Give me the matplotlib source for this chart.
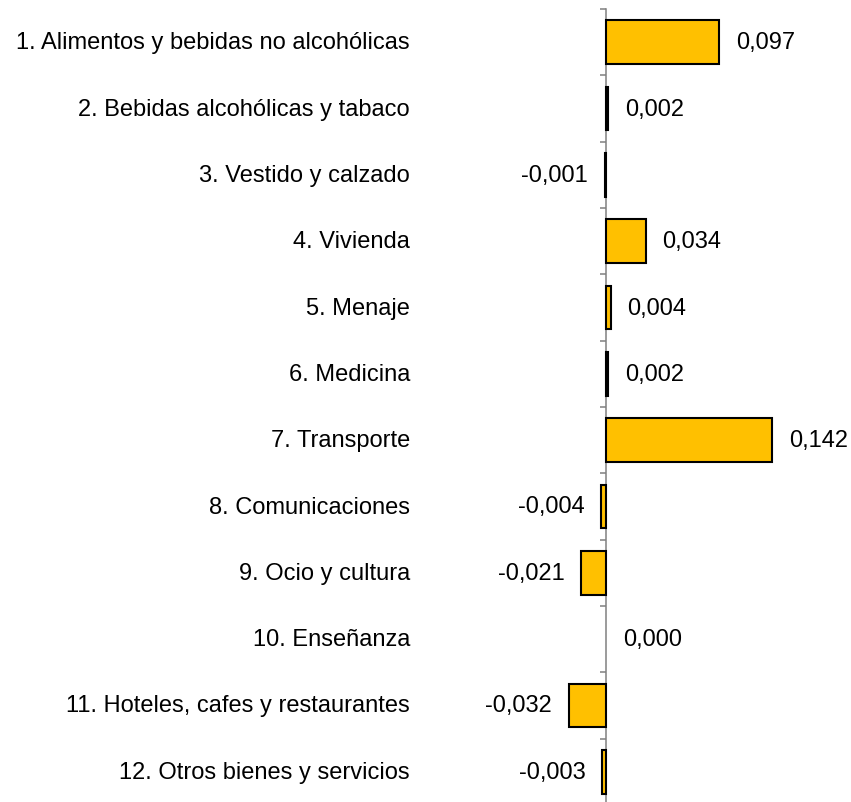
import matplotlib

matplotlib.use("Agg")
import matplotlib.pyplot as plt  # noqa: E402
from matplotlib.transforms import blended_transform_factory  # noqa: E402

plt.rcParams["font.family"] = ["Liberation Sans", "DejaVu Sans"]

categories = [
    "1. Alimentos y bebidas no alcohólicas",
    "2. Bebidas alcohólicas y tabaco",
    "3. Vestido y calzado",
    "4. Vivienda",
    "5. Menaje",
    "6. Medicina",
    "7. Transporte",
    "8. Comunicaciones",
    "9. Ocio y cultura",
    "10. Enseñanza",
    "11. Hoteles, cafes y restaurantes",
    "12. Otros bienes y servicios",
]
values = [0.097, 0.002, -0.001, 0.034, 0.004, 0.002, 0.142,
          -0.004, -0.021, 0.000, -0.032, -0.003]

W, H = 851, 803
fig = plt.figure(figsize=(W / 100, H / 100), dpi=100)
# axes spans the full width; top edge at 10 px, bottom just below the image
ax = fig.add_axes([0, -3 / H, 1, 796 / H])

px_per_unit = 1169
ax.set_xlim(-606 / px_per_unit, (W - 606) / px_per_unit)
ax.set_ylim(len(categories) - 0.5, -0.5)

pos = list(range(len(categories)))
widths = [1.5 if v != 0 else 0 for v in values]
ax.barh(pos, values, height=0.66, color="#FFC000", edgecolor="black",
        linewidth=widths, zorder=3)

for spine in ["top", "right", "bottom"]:
    ax.spines[spine].set_visible(False)
ax.spines["left"].set_position(("data", 0))
ax.spines["left"].set_color("#808080")
ax.spines["left"].set_linewidth(1.1)
ax.spines["left"].set_zorder(2)

ax.set_xticks([])
ax.set_yticks([p - 0.5 for p in pos] + [len(categories) - 0.5])
ax.set_yticklabels([])
ax.tick_params(axis="y", direction="out", length=4.5, width=1.1,
               color="#808080")

fs = 17
trans = blended_transform_factory(fig.transFigure, ax.transData)
for p, name in zip(pos, categories):
    ax.text(410 / W, p, name, transform=trans, ha="right", va="center",
            fontsize=fs, color="black")

for p, v in zip(pos, values):
    label = f"{v:.3f}".replace(".", ",")
    if v < 0:
        ax.annotate(label, xy=(v, p), xytext=(-12, 0),
                    textcoords="offset points", ha="right", va="center",
                    fontsize=fs)
    else:
        ax.annotate(label, xy=(v, p), xytext=(12, 0),
                    textcoords="offset points", ha="left", va="center",
                    fontsize=fs)

fig.savefig("out.png", dpi=100)
